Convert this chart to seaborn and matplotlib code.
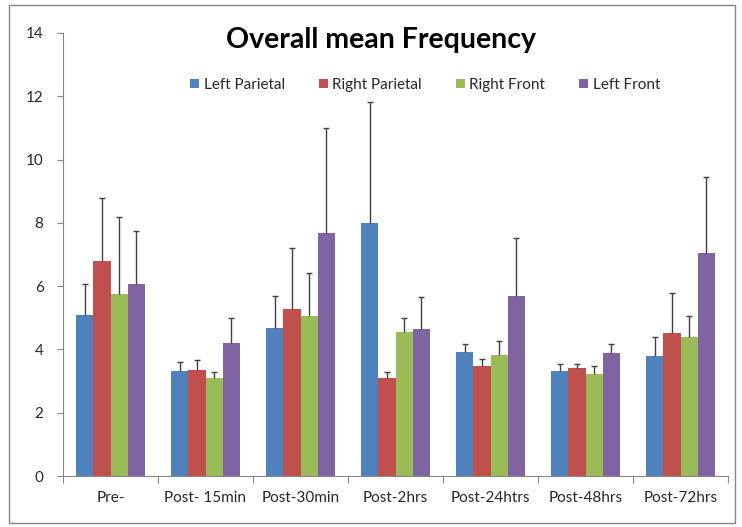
import matplotlib
matplotlib.use("Agg")
import matplotlib.pyplot as plt
import seaborn as sns
import pandas as pd
import numpy as np
from matplotlib.patches import Rectangle

categories = ["Pre-", "Post- 15min", "Post-30min", "Post-2hrs", "Post-24htrs", "Post-48hrs", "Post-72hrs"]
series = ["Left Parietal", "Right Parietal", "Right Front", "Left Front"]
left_parietal = [5.09, 3.32, 4.67, 8.01, 3.93, 3.32, 3.80]
right_parietal = [6.80, 3.35, 5.27, 3.09, 3.48, 3.42, 4.51]
right_front = [5.74, 3.09, 5.06, 4.54, 3.82, 3.22, 4.38]
left_front = [6.08, 4.21, 7.67, 4.64, 5.69, 3.88, 7.06]
# upper end of the error bars
left_parietal_top = [6.06, 3.60, 5.69, 11.81, 4.16, 3.53, 4.38]
right_parietal_top = [8.80, 3.66, 7.22, 3.30, 3.70, 3.54, 5.79]
right_front_top = [8.19, 3.30, 6.43, 5.00, 4.27, 3.48, 5.07]
left_front_top = [7.75, 5.00, 10.99, 5.65, 7.53, 4.16, 9.44]
colors = ["#4F81BD", "#C0504D", "#9BBB59", "#8064A2"]

values = [left_parietal, right_parietal, right_front, left_front]
tops = [left_parietal_top, right_parietal_top, right_front_top, left_front_top]

rows = []
for s, vals, tp in zip(series, values, tops):
    for c, v, t in zip(categories, vals, tp):
        rows.append({"Time": c, "Site": s, "Value": v, "Top": t})
df = pd.DataFrame(rows)

sns.set_theme(style="white")
plt.rcParams["font.family"] = ["Lato", "DejaVu Sans"]

fig = plt.figure(figsize=(7.42, 5.27), dpi=100)
ax = fig.add_axes([63/742, 51/527, 665/742, 443/527])

sns.barplot(data=df, x="Time", y="Value", hue="Site", order=categories,
            hue_order=series, palette=colors, width=0.72, gap=0,
            errorbar=None, saturation=1, linewidth=0, ax=ax, legend=True)

# error bars (upper only) from the drawn bars
n_cat = len(categories)
cap = 0.035
for i, s in enumerate(series):
    patches = ax.patches[i*n_cat:(i+1)*n_cat]
    xs = np.array([p.get_x() + p.get_width()/2 for p in patches])
    hs = np.array([p.get_height() for p in patches])
    tp = np.array(tops[i])
    ax.vlines(xs, hs, tp, color="#404040", linewidth=1.0, zorder=3)
    ax.hlines(tp, xs - cap, xs + cap, color="#404040", linewidth=1.0, zorder=3)

ax.set_ylim(0, 14)
ax.set_yticks(range(0, 15, 2))
ax.set_xlim(-0.5, n_cat - 0.5)
ax.set_xlabel("")
ax.set_ylabel("")
ax.set_xticks(range(n_cat))
ax.set_xticklabels(categories)
ax.xaxis.set_minor_locator(matplotlib.ticker.FixedLocator(np.arange(-0.5, n_cat, 1)))
ax.tick_params(axis="x", which="major", length=0, labelsize=11, pad=11, colors="#262626")
ax.tick_params(axis="x", which="minor", length=5, width=0.8, color="#868686", direction="out", bottom=True)
ax.tick_params(axis="y", length=4, width=0.8, color="#868686", direction="out", left=True,
               labelsize=11, pad=10, labelcolor="#262626")
for side in ["top", "right"]:
    ax.spines[side].set_visible(False)
ax.spines["left"].set_color("#868686")
ax.spines["bottom"].set_color("#868686")
ax.spines["left"].set_linewidth(0.8)
ax.spines["bottom"].set_linewidth(0.8)

leg = ax.legend(loc="center", bbox_to_anchor=(425/742, 1 - 85/527), bbox_transform=fig.transFigure,
                ncol=4, frameon=False, fontsize=11, handlelength=0.6, handleheight=0.6,
                handletextpad=0.3, columnspacing=2.2)
for t in leg.get_texts():
    t.set_color("#262626")

fig.text(381/742, 1 - 40/527, "Overall mean Frequency", ha="center", va="center",
         fontsize=20.5, fontweight="bold", color="black")

fig.patches.append(Rectangle((9/742, 4/527), 726/742, 518/527, transform=fig.transFigure,
                             fill=False, edgecolor="#868686", linewidth=1.0))

fig.savefig("out.png", dpi=100)
